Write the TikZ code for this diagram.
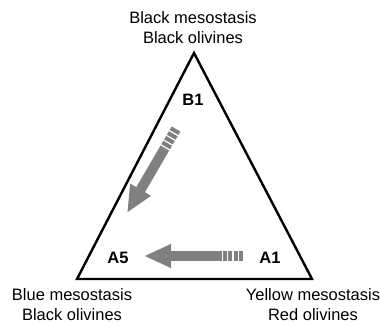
\documentclass[tikz,border=0pt]{standalone}
\usepackage{fontspec}
\setmainfont{Liberation Sans}
\usetikzlibrary{arrows.meta,calc}
\begin{document}
\begin{tikzpicture}[x=1pt,y=-1pt,
  lbl/.style={align=center, font=\fontsize{16.5}{20}\selectfont, inner sep=0pt},
  tag/.style={font=\fontsize{16.5}{20}\selectfont\bfseries, inner sep=0pt},
  side/.style={line width=2.4pt, line join=miter},
  shaft/.style={line width=10pt, draw={rgb,255:red,128;green,128;blue,128}},
  tip/.style={shaft, -{Triangle[length=27pt,width=22pt]}},
  stripes/.style={shaft, dash pattern=on 4pt off 1.5pt}]
\useasboundingbox (0,0) rectangle (380,323);
% triangle corners
\coordinate (T) at (194,53);
\coordinate (L) at (77,279);
\coordinate (R) at (312,279);
\draw[side] (T) -- (R) -- (L) -- cycle;
% corner labels
\node[lbl] (top) at (193,28) {Black mesostasis\\Black olivines};
\node[lbl] (bl) at (72,304.5) {Blue mesostasis\\Black olivines};
\node[lbl] (br) at (313,304.5) {Yellow mesostasis\\Red olivines};
\node[tag] (B1) at (193,100) {B1};
\node[tag] (A5) at (118,258) {A5};
\node[tag] (A1) at (270,258) {A1};
% horizontal arrow A1 -> A5
\coordinate (h0) at (243,256);
\coordinate (h1) at (221,256);
\coordinate (h2) at (144,256);
\draw[stripes] (h0) -- (h1);
\draw[tip] ([xshift=0.5pt]h1) -- (h2);
% diagonal arrow B1 -> A5
\coordinate (d0) at (176,129);
\coordinate (d2) at (127,213);
\coordinate (d1) at ($(d0)!0.24!(d2)$);
\draw[stripes] (d0) -- (d1);
\draw[tip] (d1) -- (d2);
\end{tikzpicture}
\end{document}
